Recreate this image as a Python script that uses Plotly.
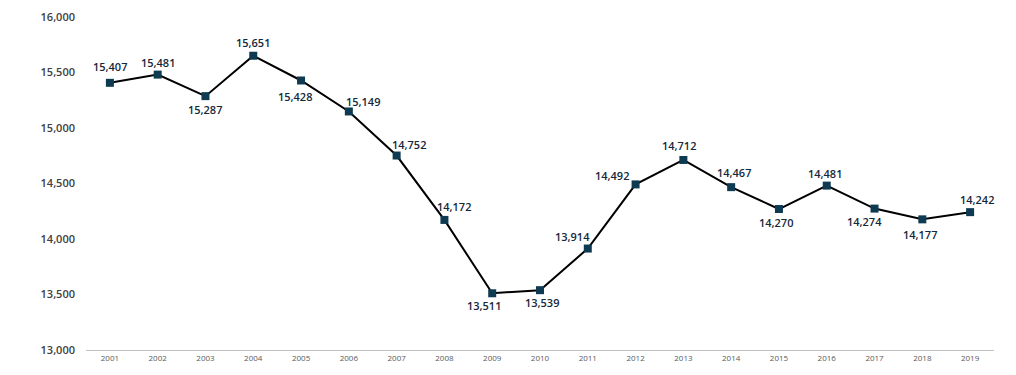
import plotly.graph_objects as go

years = [str(y) for y in range(2001, 2020)]
values = [15407, 15481, 15287, 15651, 15428, 15149, 14752, 14172, 13511, 13539,
          13914, 14492, 14712, 14467, 14270, 14481, 14274, 14177, 14242]
y_ticks = [13000, 13500, 14000, 14500, 15000, 15500, 16000]

# label offsets (px) relative to each point
label_dx = [0, 0, 0, 0, -6, 14, 12, 10, -8, 2, -15, -24, -4, 3, -3, -2, -10, -2, 7]
label_dy = [16, 12, -13, 13, -16, 10, 11, 13, -12, -12, 12, 9, 14, 15, -13, 12, -13, -15, 13]

fig = go.Figure()
fig.add_trace(go.Scatter(
    x=years, y=values, mode="lines+markers",
    line=dict(color="#000000", width=2),
    marker=dict(symbol="square", size=8, color="#0e3a52"),
    hoverinfo="skip", showlegend=False,
))

for i, v in enumerate(values):
    fig.add_annotation(
        x=i, y=v, xref="x", yref="y", text=f"{v:,}", showarrow=False,
        xshift=label_dx[i], yshift=label_dy[i],
        font=dict(family="Open Sans", size=11, color="#15273a", weight=600),
    )

fig.update_layout(
    width=1000, height=359,
    margin=dict(l=78, r=14, t=9, b=17),
    plot_bgcolor="white", paper_bgcolor="white",
    xaxis=dict(
        type="category", range=[-0.5, 18.5], automargin=False,
        showline=True, linecolor="#bfbfbf", linewidth=1,
        showgrid=False, zeroline=False, ticks="",
        tickfont=dict(family="Open Sans", size=8, color="#595959"),
    ),
    yaxis=dict(
        range=[13000, 16000], tickvals=y_ticks, tickformat=",", automargin=False,
        showgrid=False, zeroline=False, showline=False, ticks="",
        ticklabelstandoff=10,
        tickfont=dict(family="Open Sans", size=11, color="#404040", weight=600),
    ),
)

fig.write_html("out.html")
